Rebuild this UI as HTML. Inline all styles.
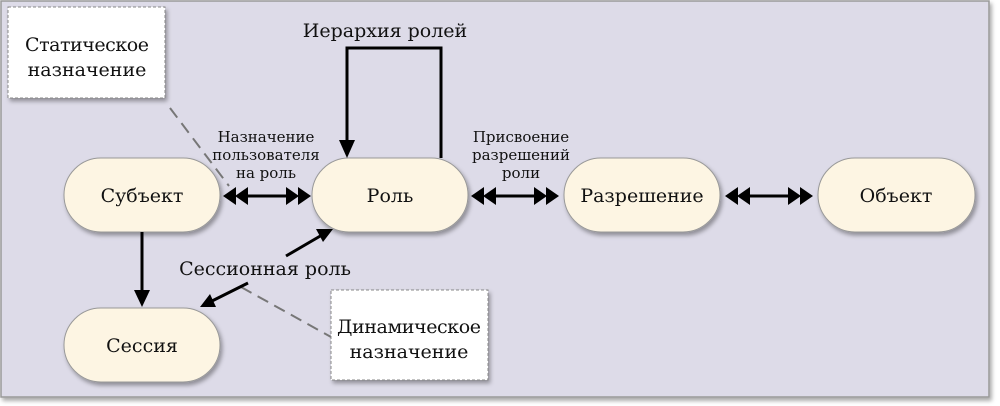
<!DOCTYPE html>
<html><head><meta charset="utf-8"><style>
html,body{margin:0;padding:0;background:#fff;width:1000px;height:406px;overflow:hidden}
svg text{font-family:"DejaVu Serif","Liberation Serif","Noto Serif CJK SC",serif;fill:#111}
</style></head><body>
<svg width="1000" height="406" viewBox="0 0 1000 406" xmlns="http://www.w3.org/2000/svg">
<defs>
<filter id="sh" x="-10%" y="-10%" width="130%" height="140%"><feDropShadow dx="2" dy="3" stdDeviation="2" flood-color="#000" flood-opacity="0.35"/></filter>
<g id="da">
<polygon points="0,0 13,-9 13,9" fill="#000"/>
<polygon points="12,0 25,-9 25,9" fill="#000"/>
<polygon points="88,0 75,-9 75,9" fill="#000"/>
<polygon points="76,0 63,-9 63,9" fill="#000"/>
<line x1="22" y1="0" x2="66" y2="0" stroke="#000" stroke-width="3"/>
</g>
</defs>
<rect x="1" y="1" width="988" height="396" fill="#dddbe8" stroke="#999" stroke-width="1.5" filter="url(#sh)"/>
<line x1="170" y1="108" x2="229" y2="186" stroke="#777" stroke-width="2" stroke-dasharray="12,7"/>
<line x1="241" y1="287" x2="331" y2="337" stroke="#777" stroke-width="2" stroke-dasharray="12,7"/>
<rect x="8" y="7" width="157" height="91" fill="#fff" stroke="#888" stroke-dasharray="3,2" filter="url(#sh)"/>
<text x="87" y="51" font-size="19" text-anchor="middle" textLength="124">Статическое</text>
<text x="87" y="76" font-size="19" text-anchor="middle">назначение</text>
<rect x="331" y="290" width="157" height="90" fill="#fff" stroke="#888" stroke-dasharray="3,2" filter="url(#sh)"/>
<text x="409" y="333" font-size="19" text-anchor="middle" textLength="144">Динамическое</text>
<text x="409" y="358" font-size="19" text-anchor="middle">назначение</text>
<g fill="#fdf5e3" stroke="#999" stroke-width="1" filter="url(#sh)">
<rect x="64" y="158" width="156" height="74" rx="37"/>
<rect x="312" y="158" width="156" height="74" rx="37"/>
<rect x="564" y="158" width="156" height="74" rx="37"/>
<rect x="818" y="158" width="157" height="74" rx="37"/>
<rect x="64" y="308" width="156" height="74" rx="37"/>
</g>
<g font-size="19" text-anchor="middle">
<text x="142" y="202">Субъект</text>
<text x="390" y="202">Роль</text>
<text x="642" y="202">Разрешение</text>
<text x="896" y="202">Объект</text>
<text x="142" y="352">Сессия</text>
</g>
<use href="#da" x="223" y="196"/>
<use href="#da" x="471" y="196"/>
<use href="#da" x="725" y="196"/>
<g font-size="15" text-anchor="middle">
<text x="266" y="142">Назначение</text>
<text x="266" y="160">пользователя</text>
<text x="266" y="178">на роль</text>
<text x="521" y="142">Присвоение</text>
<text x="521" y="160">разрешений</text>
<text x="521" y="178">роли</text>
</g>
<polyline points="441,158 441,48 347,48 347,145" fill="none" stroke="#000" stroke-width="3"/>
<polygon points="347,158 339,140 355,140" fill="#000"/>
<text x="385" y="37" font-size="19" text-anchor="middle">Иерархия ролей</text>
<line x1="142" y1="232" x2="142" y2="294" stroke="#000" stroke-width="3"/>
<polygon points="142,307 134,290 150,290" fill="#000"/>
<line x1="286" y1="256" x2="322" y2="235" stroke="#000" stroke-width="3"/>
<polygon points="333,229 316,229 323,242" fill="#000"/>
<line x1="248" y1="283" x2="212" y2="301" stroke="#000" stroke-width="3"/>
<polygon points="200,307 210,294 216,307" fill="#000"/>
<text x="265" y="275" font-size="19" text-anchor="middle">Сессионная роль</text>
</svg>
</body></html>
